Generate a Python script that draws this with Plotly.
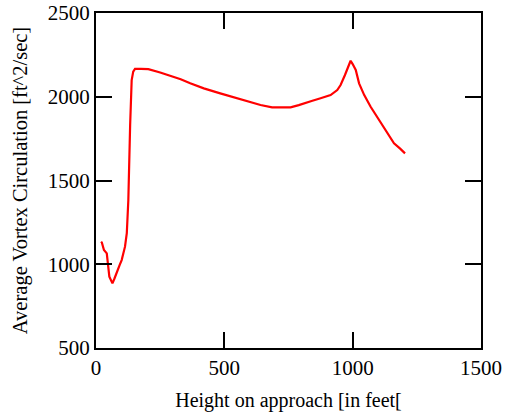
import plotly.graph_objects as go

height_ft = [20, 23, 31, 42, 52, 64, 72, 81, 92, 100, 113, 120, 126, 133, 139, 145, 152,
             175, 204, 250, 289, 330, 367, 420, 484, 540, 588, 641, 686, 720, 758,
             790, 810, 840, 875, 914, 940, 953, 970, 985, 992, 1000, 1012, 1025,
             1045, 1070, 1100, 1129, 1145, 1161, 1185, 1204]
circulation = [1135, 1129, 1085, 1065, 926, 886, 915, 955, 995, 1025, 1105, 1185, 1384, 1831, 2100, 2150, 2166,
               2166, 2165, 2145, 2126, 2105, 2080, 2050, 2020, 1995, 1970, 1951, 1937, 1937, 1937,
               1950, 1961, 1975, 1991, 2010, 2040, 2070, 2130, 2195, 2215, 2195, 2160, 2080,
               2010, 1940, 1870, 1800, 1765, 1722, 1690, 1662]

x_ticks = [0, 500, 1000, 1500]
y_ticks = [500, 1000, 1500, 2000, 2500]

fig = go.Figure()
fig.add_trace(go.Scatter(x=height_ft, y=circulation, mode="lines",
                         line=dict(color="#ff0000", width=2.2), showlegend=False))

font = "Liberation Serif, Times New Roman, serif"
axis_common = dict(showgrid=False, zeroline=False, showline=True, linecolor="black", linewidth=2,
                   ticks="inside", ticklen=16, tickwidth=2, tickcolor="black", mirror="allticks",
                   automargin=False,
                   tickfont=dict(family=font, size=21, color="black"))

fig.update_xaxes(range=[0, 1500], tickvals=x_ticks, ticktext=[str(v) for v in x_ticks],
                 title=dict(text="Height on approach [in feet[", font=dict(family=font, size=20, color="black"), standoff=14),
                 **axis_common)
fig.update_yaxes(range=[500, 2500], tickvals=y_ticks, ticktext=[str(v) for v in y_ticks],
                 title=dict(text="Average Vortex Circulation [ft^2/sec]", font=dict(family=font, size=20.5, color="black"), standoff=15),
                 **axis_common)

fig.update_layout(width=508, height=414, margin=dict(l=96, r=27, t=13, b=66),
                  plot_bgcolor="white", paper_bgcolor="white")

fig.write_html("out.html")
